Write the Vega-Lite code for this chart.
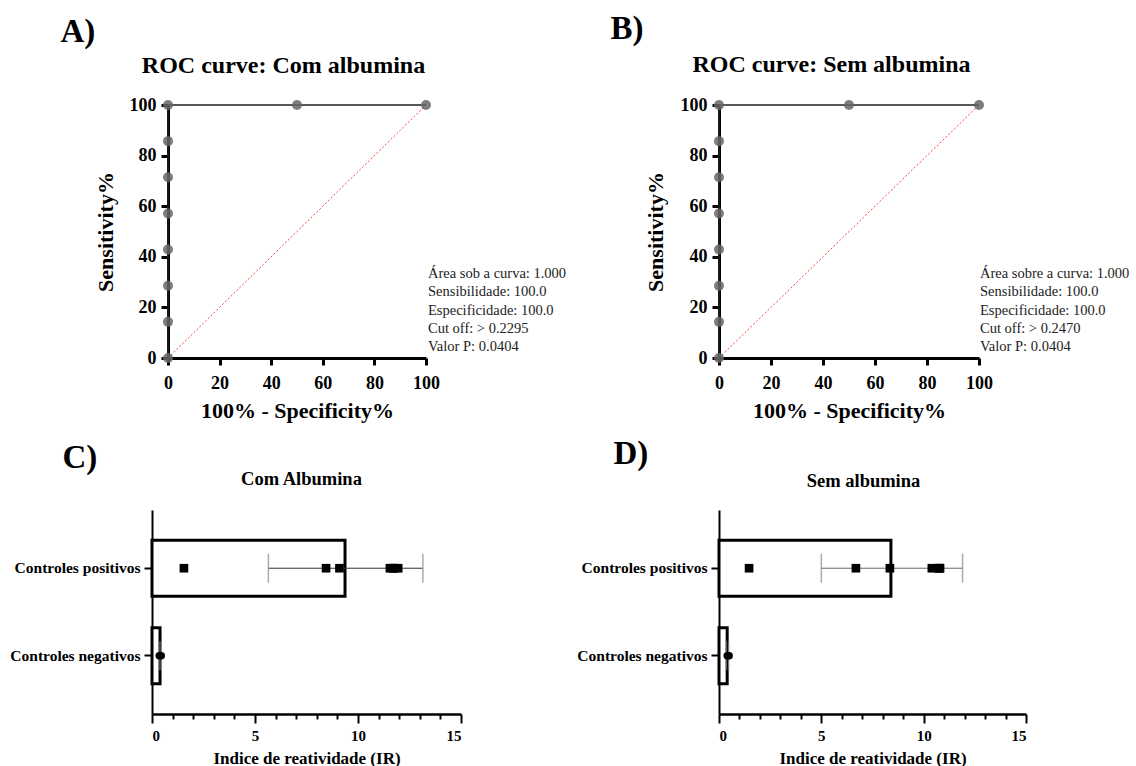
{
  "$schema": "https://vega.github.io/schema/vega-lite/v6.json",
  "padding": {"left": 9, "top": 12, "right": 5, "bottom": 0},
  "background": "white",
  "config": {
    "view": {"stroke": null},
    "font": "Liberation Serif",
    "axis": {"grid": false, "domainColor": "black", "tickColor": "black", "labelColor": "black", "titleColor": "black", "labelFont": "Liberation Serif", "titleFont": "Liberation Serif", "labelFontWeight": "bold", "titleFontWeight": "bold"}
  },
  "datasets": {
    "roc": [
      {"k": 1, "fpr": 0, "sens": 0},
      {"k": 2, "fpr": 0, "sens": 14.29},
      {"k": 3, "fpr": 0, "sens": 28.57},
      {"k": 4, "fpr": 0, "sens": 42.86},
      {"k": 5, "fpr": 0, "sens": 57.14},
      {"k": 6, "fpr": 0, "sens": 71.43},
      {"k": 7, "fpr": 0, "sens": 85.71},
      {"k": 8, "fpr": 0, "sens": 100},
      {"k": 9, "fpr": 50, "sens": 100},
      {"k": 10, "fpr": 100, "sens": 100}
    ],
    "diag": [{"x0": 0, "y0": 0, "x1": 100, "y1": 100}],
    "statsA": [{"linhas": ["Área sob a curva: 1.000", "Sensibilidade: 100.0", "Especificidade: 100.0", "Cut off: > 0.2295", "Valor P: 0.0404"]}],
    "statsB": [{"linhas": ["Área sobre a curva: 1.000", "Sensibilidade: 100.0", "Especificidade: 100.0", "Cut off: > 0.2470", "Valor P: 0.0404"]}],
    "barsC": [
      {"grupo": "Controles positivos", "media": 9.37, "lo": 5.65, "hi": 13.15},
      {"grupo": "Controles negativos", "media": 0.39, "lo": 0.34, "hi": 0.44}
    ],
    "ptsC": [
      {"grupo": "Controles positivos", "ir": 1.55},
      {"grupo": "Controles positivos", "ir": 8.45},
      {"grupo": "Controles positivos", "ir": 9.1},
      {"grupo": "Controles positivos", "ir": 11.55},
      {"grupo": "Controles positivos", "ir": 11.7},
      {"grupo": "Controles positivos", "ir": 11.75},
      {"grupo": "Controles positivos", "ir": 11.95},
      {"grupo": "Controles negativos", "ir": 0.45},
      {"grupo": "Controles negativos", "ir": 0.35}
    ],
    "barsD": [
      {"grupo": "Controles positivos", "media": 8.4, "lo": 5.0, "hi": 11.9},
      {"grupo": "Controles negativos", "media": 0.4, "lo": 0.35, "hi": 0.47}
    ],
    "ptsD": [
      {"grupo": "Controles positivos", "ir": 1.47},
      {"grupo": "Controles positivos", "ir": 6.69},
      {"grupo": "Controles positivos", "ir": 8.35},
      {"grupo": "Controles positivos", "ir": 10.4},
      {"grupo": "Controles positivos", "ir": 10.75},
      {"grupo": "Controles positivos", "ir": 10.75},
      {"grupo": "Controles positivos", "ir": 10.8},
      {"grupo": "Controles negativos", "ir": 0.5},
      {"grupo": "Controles negativos", "ir": 0.4}
    ]
  },
  "bounds": "flush",
  "columns": 2,
  "spacing": {"row": 152, "column": 258},
  "concat": [
    {
      "width": 274,
      "height": 253,
      "resolve": {"axis": {"x": "independent"}},
      "layer": [
        {
          "data": {"name": "diag"},
          "mark": {"type": "rule", "color": "#ff4040", "strokeDash": [2, 2], "strokeWidth": 1},
          "encoding": {
            "x": {"field": "x0", "type": "quantitative", "scale": {"domain": [0, 100], "range": [16, 274], "nice": false}, "axis": {"values": [0, 20, 40, 60, 80, 100], "title": "100% - Specificity%", "titleFontSize": 22, "titleY": 59, "titleBaseline": "alphabetic", "labelFontSize": 18, "domainWidth": 3, "tickWidth": 3, "tickSize": 7, "labelPadding": 9, "labelFlush": false}},
            "y": {"field": "y0", "type": "quantitative", "scale": {"domain": [0, 100], "nice": false}, "axis": {"values": [0, 20, 40, 60, 80, 100], "offset": -16, "title": "Sensitivity%", "titleFontSize": 22, "titleX": -63, "titleBaseline": "middle", "labelFontSize": 18, "domainWidth": 3, "tickWidth": 3, "tickSize": 7, "labelPadding": 5}},
            "x2": {"field": "x1"},
            "y2": {"field": "y1"}
          }
        },
        {
          "data": {"name": "roc"},
          "mark": {"type": "line", "color": "#222222", "strokeWidth": 1.5},
          "encoding": {
            "x": {"field": "fpr", "type": "quantitative", "axis": {"orient": "top", "domain": false, "ticks": false, "labels": false, "title": "A)", "titleFontSize": 33, "titleX": -92, "titleY": -64, "titleAlign": "left", "titleBaseline": "alphabetic"}},
            "y": {"field": "sens", "type": "quantitative"},
            "order": {"field": "k"}
          }
        },
        {
          "data": {"name": "roc"},
          "mark": {"type": "circle", "size": 100, "color": "#666666", "opacity": 0.85},
          "encoding": {
            "x": {"field": "fpr", "type": "quantitative", "axis": {"orient": "top", "domain": false, "ticks": false, "labels": false, "title": "ROC curve: Com albumina", "titleFontSize": 24, "titleX": 131, "titleY": -33, "titleAlign": "center", "titleBaseline": "alphabetic"}},
            "y": {"field": "sens", "type": "quantitative"}
          }
        },
        {
          "data": {"name": "statsA"},
          "mark": {"type": "text", "align": "left", "baseline": "alphabetic", "dx": 2, "fontSize": 14.5, "lineHeight": 18.3, "color": "#222222", "font": "Liberation Serif"},
          "encoding": {
            "x": {"datum": 100, "type": "quantitative", "axis": null},
            "y": {"datum": 31.6, "type": "quantitative"},
            "text": {"field": "linhas"}
          }
        }
      ]
    },
    {
      "width": 260,
      "height": 253,
      "resolve": {"axis": {"x": "independent"}},
      "layer": [
        {
          "data": {"name": "diag"},
          "mark": {"type": "rule", "color": "#ff4040", "strokeDash": [2, 2], "strokeWidth": 1},
          "encoding": {
            "x": {"field": "x0", "type": "quantitative", "scale": {"domain": [0, 100], "nice": false}, "axis": {"values": [0, 20, 40, 60, 80, 100], "title": "100% - Specificity%", "titleFontSize": 22, "titleY": 59, "titleBaseline": "alphabetic", "labelFontSize": 18, "domainWidth": 3, "tickWidth": 3, "tickSize": 7, "labelPadding": 9, "labelFlush": false}},
            "y": {"field": "y0", "type": "quantitative", "scale": {"domain": [0, 100], "nice": false}, "axis": {"values": [0, 20, 40, 60, 80, 100], "title": "Sensitivity%", "titleFontSize": 22, "titleX": -64, "titleBaseline": "middle", "labelFontSize": 18, "domainWidth": 3, "tickWidth": 3, "tickSize": 7, "labelPadding": 5}},
            "x2": {"field": "x1"},
            "y2": {"field": "y1"}
          }
        },
        {
          "data": {"name": "roc"},
          "mark": {"type": "line", "color": "#222222", "strokeWidth": 1.5},
          "encoding": {
            "x": {"field": "fpr", "type": "quantitative", "axis": {"orient": "top", "domain": false, "ticks": false, "labels": false, "title": "B)", "titleFontSize": 33, "titleX": -109, "titleY": -67, "titleAlign": "left", "titleBaseline": "alphabetic"}},
            "y": {"field": "sens", "type": "quantitative"},
            "order": {"field": "k"}
          }
        },
        {
          "data": {"name": "roc"},
          "mark": {"type": "circle", "size": 100, "color": "#666666", "opacity": 0.85},
          "encoding": {
            "x": {"field": "fpr", "type": "quantitative", "axis": {"orient": "top", "domain": false, "ticks": false, "labels": false, "title": "ROC curve: Sem albumina", "titleFontSize": 24, "titleX": 112, "titleY": -34, "titleAlign": "center", "titleBaseline": "alphabetic"}},
            "y": {"field": "sens", "type": "quantitative"}
          }
        },
        {
          "data": {"name": "statsB"},
          "mark": {"type": "text", "align": "left", "baseline": "alphabetic", "dx": 1, "fontSize": 14.5, "lineHeight": 18.3, "color": "#222222", "font": "Liberation Serif"},
          "encoding": {
            "x": {"datum": 100, "type": "quantitative", "axis": null},
            "y": {"datum": 31.6, "type": "quantitative"},
            "text": {"field": "linhas"}
          }
        }
      ]
    },
    {
      "width": 309,
      "height": 204,
      "resolve": {"axis": {"x": "independent"}},
      "layer": [
        {
          "data": {"name": "barsC"},
          "mark": {"type": "bar", "fill": "white", "stroke": "black", "strokeWidth": 3},
          "encoding": {
            "x": {"field": "media", "type": "quantitative", "scale": {"domain": [0, 15], "nice": false}, "axis": {"values": [0, 1, 2, 3, 4, 5, 6, 7, 8, 9, 10, 11, 12, 13, 14, 15], "labelOverlap": false, "labelExpr": "datum.value % 5 === 0 ? datum.label : ''", "tickSize": {"condition": {"test": "datum.value % 5 === 0", "value": 9}, "value": 5}, "title": "Indice de reatividade (IR)", "titleFontSize": 17, "titleY": 49, "titleBaseline": "alphabetic", "labelFontSize": 15, "domainWidth": 2.5, "tickWidth": 2, "labelPadding": 5}},
            "y": {"field": "grupo", "type": "nominal", "sort": ["Controles positivos", "Controles negativos"], "scale": {"paddingInner": 0.36, "paddingOuter": 0.345}, "axis": {"title": null, "labelFontSize": 15.5, "domainWidth": 2, "tickWidth": 2, "tickSize": 8, "labelPadding": 4}}
          }
        },
        {
          "data": {"name": "barsC"},
          "mark": {"type": "rule", "color": "#333333", "strokeWidth": 1},
          "encoding": {
            "x": {"field": "lo", "type": "quantitative", "axis": {"orient": "top", "domain": false, "ticks": false, "labels": false, "title": "C)", "titleFontSize": 33, "titleX": -90, "titleY": -43, "titleAlign": "left", "titleBaseline": "alphabetic"}},
            "x2": {"field": "hi"},
            "y": {"field": "grupo", "type": "nominal", "sort": ["Controles positivos", "Controles negativos"]}
          }
        },
        {
          "data": {"name": "barsC"},
          "mark": {"type": "tick", "color": "#888888", "size": 29, "thickness": 1.5},
          "encoding": {
            "x": {"field": "lo", "type": "quantitative", "axis": null},
            "y": {"field": "grupo", "type": "nominal", "sort": ["Controles positivos", "Controles negativos"]}
          }
        },
        {
          "data": {"name": "barsC"},
          "mark": {"type": "tick", "color": "#888888", "size": 29, "thickness": 1.5},
          "encoding": {
            "x": {"field": "hi", "type": "quantitative", "axis": null},
            "y": {"field": "grupo", "type": "nominal", "sort": ["Controles positivos", "Controles negativos"]}
          }
        },
        {
          "data": {"name": "ptsC"},
          "mark": {"type": "point", "filled": true, "opacity": 1, "color": "black"},
          "encoding": {
            "x": {"field": "ir", "type": "quantitative", "axis": {"orient": "top", "domain": false, "ticks": false, "labels": false, "title": "Com Albumina", "titleFontSize": 18.5, "titleX": 149, "titleY": -26, "titleAlign": "center", "titleBaseline": "alphabetic"}},
            "y": {"field": "grupo", "type": "nominal", "sort": ["Controles positivos", "Controles negativos"]},
            "shape": {"field": "grupo", "type": "nominal", "scale": {"domain": ["Controles positivos", "Controles negativos"], "range": ["square", "circle"]}, "legend": null},
            "size": {"field": "grupo", "type": "nominal", "scale": {"domain": ["Controles positivos", "Controles negativos"], "range": [75, 55]}, "legend": null}
          }
        }
      ]
    },
    {
      "width": 307,
      "height": 204,
      "resolve": {"axis": {"x": "independent"}},
      "layer": [
        {
          "data": {"name": "barsD"},
          "mark": {"type": "bar", "fill": "white", "stroke": "black", "strokeWidth": 3},
          "encoding": {
            "x": {"field": "media", "type": "quantitative", "scale": {"domain": [0, 15], "nice": false}, "axis": {"values": [0, 1, 2, 3, 4, 5, 6, 7, 8, 9, 10, 11, 12, 13, 14, 15], "labelOverlap": false, "labelExpr": "datum.value % 5 === 0 ? datum.label : ''", "tickSize": {"condition": {"test": "datum.value % 5 === 0", "value": 9}, "value": 5}, "title": "Indice de reatividade (IR)", "titleFontSize": 17, "titleY": 49, "titleBaseline": "alphabetic", "labelFontSize": 15, "domainWidth": 2.5, "tickWidth": 2, "labelPadding": 5}},
            "y": {"field": "grupo", "type": "nominal", "sort": ["Controles positivos", "Controles negativos"], "scale": {"paddingInner": 0.36, "paddingOuter": 0.345}, "axis": {"title": null, "labelFontSize": 15.5, "domainWidth": 2, "tickWidth": 2, "tickSize": 8, "labelPadding": 4}}
          }
        },
        {
          "data": {"name": "barsD"},
          "mark": {"type": "rule", "color": "#666666", "strokeWidth": 1},
          "encoding": {
            "x": {"field": "lo", "type": "quantitative", "axis": {"orient": "top", "domain": false, "ticks": false, "labels": false, "title": "D)", "titleFontSize": 33, "titleX": -106, "titleY": -47, "titleAlign": "left", "titleBaseline": "alphabetic"}},
            "x2": {"field": "hi"},
            "y": {"field": "grupo", "type": "nominal", "sort": ["Controles positivos", "Controles negativos"]}
          }
        },
        {
          "data": {"name": "barsD"},
          "mark": {"type": "tick", "color": "#888888", "size": 29, "thickness": 1.5},
          "encoding": {
            "x": {"field": "lo", "type": "quantitative", "axis": null},
            "y": {"field": "grupo", "type": "nominal", "sort": ["Controles positivos", "Controles negativos"]}
          }
        },
        {
          "data": {"name": "barsD"},
          "mark": {"type": "tick", "color": "#888888", "size": 29, "thickness": 1.5},
          "encoding": {
            "x": {"field": "hi", "type": "quantitative", "axis": null},
            "y": {"field": "grupo", "type": "nominal", "sort": ["Controles positivos", "Controles negativos"]}
          }
        },
        {
          "data": {"name": "ptsD"},
          "mark": {"type": "point", "filled": true, "opacity": 1, "color": "black"},
          "encoding": {
            "x": {"field": "ir", "type": "quantitative", "axis": {"orient": "top", "domain": false, "ticks": false, "labels": false, "title": "Sem albumina", "titleFontSize": 18.5, "titleX": 144, "titleY": -24, "titleAlign": "center", "titleBaseline": "alphabetic"}},
            "y": {"field": "grupo", "type": "nominal", "sort": ["Controles positivos", "Controles negativos"]},
            "shape": {"field": "grupo", "type": "nominal", "scale": {"domain": ["Controles positivos", "Controles negativos"], "range": ["square", "circle"]}, "legend": null},
            "size": {"field": "grupo", "type": "nominal", "scale": {"domain": ["Controles positivos", "Controles negativos"], "range": [75, 55]}, "legend": null}
          }
        }
      ]
    }
  ]
}
